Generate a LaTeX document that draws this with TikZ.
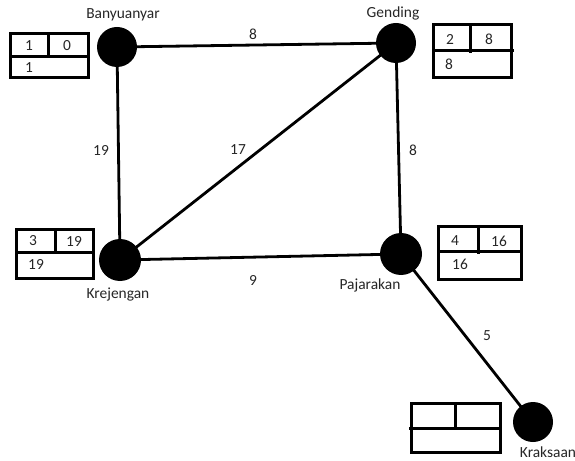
\documentclass[tikz,border=0pt]{standalone}
\usepackage{fontspec}
\setmainfont{Carlito}
\begin{document}
\begin{tikzpicture}[x=1bp,y=-1bp,
  vertex/.style={circle,fill=black,minimum size=40bp,inner sep=0pt},
  edge/.style={line width=2.8bp},
  boxline/.style={line width=3bp},
  lbl/.style={font=\fontsize{15.5}{17}\selectfont,inner sep=0pt,text=black!85},
  num/.style={font=\fontsize{15.5}{17}\selectfont,inner sep=0pt,text=black!85}]
\useasboundingbox (0,0) rectangle (575,461);
% vertices
\coordinate (ban) at (117,47);
\coordinate (gen) at (396,43);
\coordinate (kre) at (120,260);
\coordinate (paj) at (401,254);
\coordinate (kra) at (533,422);
% edges
\draw[edge] (ban) -- (gen);
\draw[edge] (ban) -- (kre);
\draw[edge] (kre) -- (gen);
\draw[edge] (gen) -- (paj);
\draw[edge] (kre) -- (paj);
\draw[edge] (paj) -- (kra);
% vertex discs on top
\node[vertex] (vban) at (ban) {};
\node[vertex] (vgen) at (gen) {};
\node[vertex,minimum size=42bp] (vkre) at (kre) {};
\node[vertex,minimum size=42bp] (vpaj) at (paj) {};
\node[vertex] (vkra) at (kra) {};
% vertex labels
\node[lbl] (lban) at (123,15) {Banyuanyar};
\node[lbl] (lgen) at (393,13) {Gending};
\node[lbl] (lkre) at (118,295) {Krejengan};
\node[lbl] (lpaj) at (370,285) {Pajarakan};
\node[lbl] (lkra) at (548,452) {Kraksaan};
% edge labels
\node[num] (e1) at (253,34) {8};
\node[num] (e2) at (101,150) {19};
\node[num] (e3) at (238,150) {17};
\node[num] (e4) at (413,150) {8};
\node[num] (e5) at (253,280) {9};
\node[num] (e6) at (487,336) {5};
% boxes
\draw[boxline] (10,34) rectangle (88,78);
\draw[boxline] (10,57) -- (90,57);
\draw[boxline] (48,34) -- (48,57);
\node[num] at (29,46) {1};
\node[num] at (67,46) {0};
\node[num] at (29,68) {1};

\draw[boxline] (433,25) rectangle (511,78);
\draw[boxline] (433,51) -- (514,51);
\draw[boxline] (470,25) -- (470,53);
\node[num] at (450,39) {2};
\node[num] at (489,39) {8};
\node[num] at (449,64) {8};

\draw[boxline] (16,230) rectangle (93,278);
\draw[boxline] (16,253) -- (93,253);
\draw[boxline] (55,230) -- (55,253);
\node[num] at (33,241) {3};
\node[num] at (74,241) {19};
\node[num] at (36,264) {19};

\draw[boxline] (438,227) rectangle (521,279);
\draw[boxline] (438,252) -- (521,252);
\draw[boxline] (478,225) -- (478,254);
\node[num] at (455,241) {4};
\node[num] at (499,241) {16};
\node[num] at (460,264) {16};

\draw[boxline] (411,403) rectangle (500,452);
\draw[boxline] (409,428) -- (502,428);
\draw[boxline] (455,403) -- (455,429);
\end{tikzpicture}
\end{document}
